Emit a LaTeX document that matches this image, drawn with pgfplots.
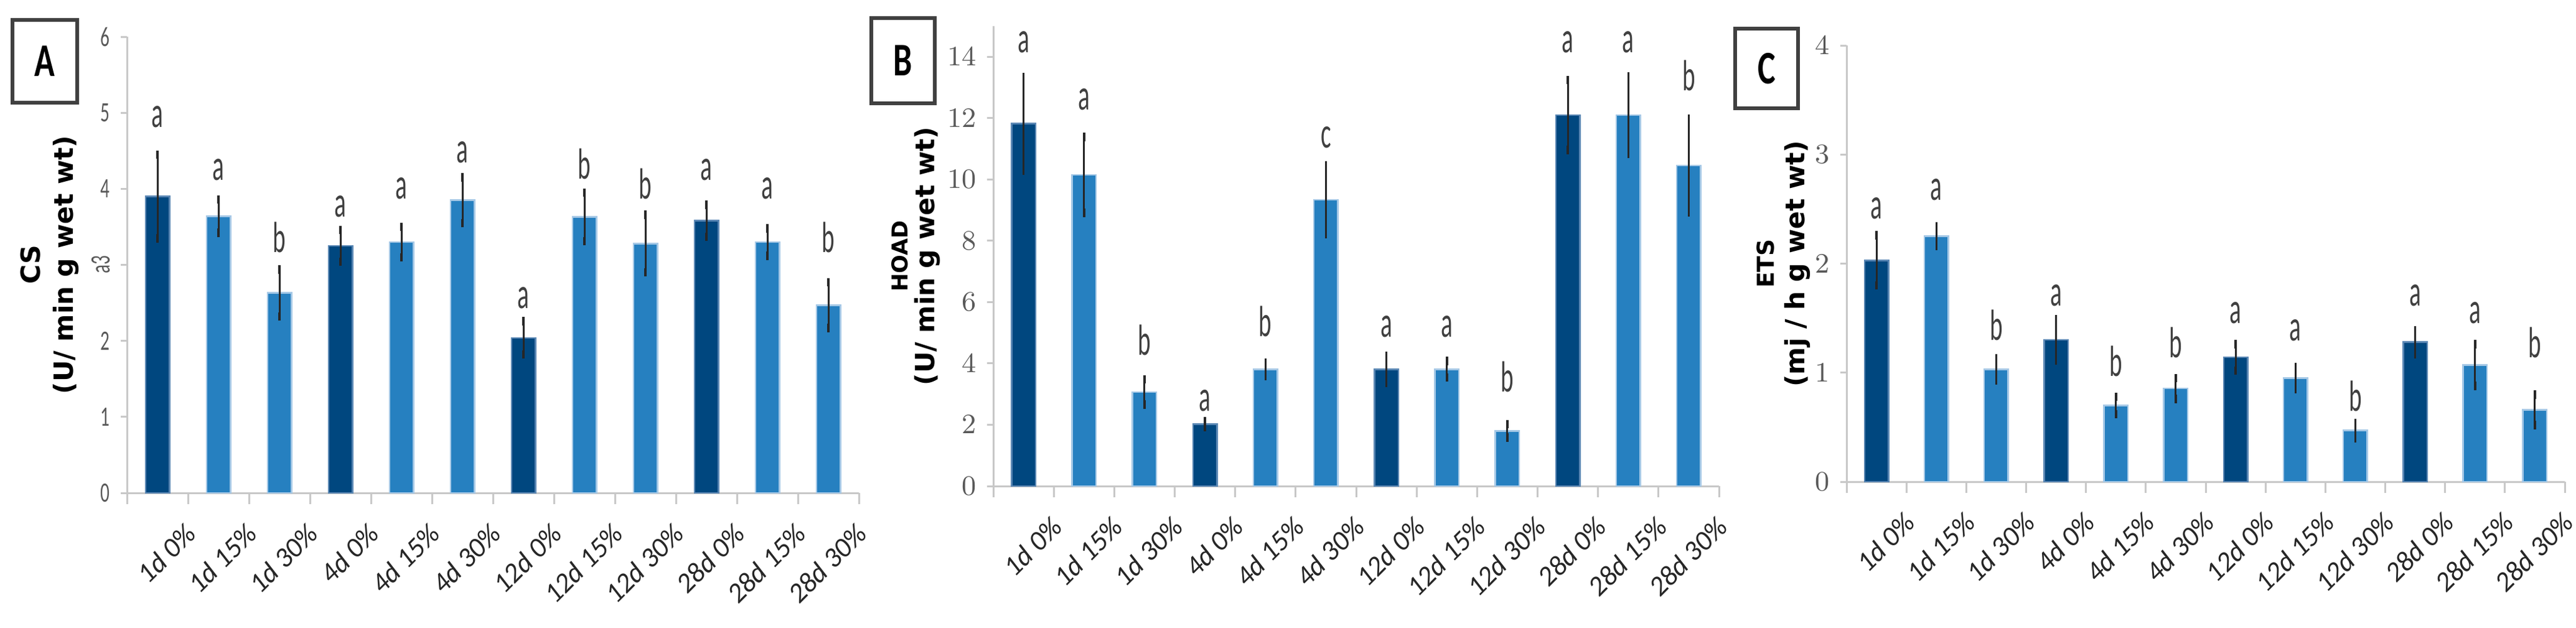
\documentclass[border=0pt]{standalone}
\usepackage{pgfplots}
\pgfplotsset{compat=1.18}
\usepackage{fontspec}
\setmainfont{Carlito}
\newfontfamily\tickf{Carlito}[FakeStretch=0.65]
\newfontfamily\letf{Carlito}[FakeStretch=0.56]
\newfontfamily\boxf{Carlito}[FakeStretch=0.72]
\newfontfamily\labf{DejaVu Sans}
\definecolor{darkb}{RGB}{0,71,127}
\definecolor{darkedge}{RGB}{90,135,180}
\definecolor{lightb}{RGB}{38,128,192}
\definecolor{lightedge}{RGB}{165,200,230}
\definecolor{axgray}{RGB}{200,200,200}
\definecolor{tickgray}{RGB}{89,89,89}
\definecolor{letgray}{RGB}{64,64,64}
\pgfplotsset{
  panel/.style={
    scale only axis,
    xmin=-0.5, xmax=11.5, ymin=0,
    axis x line*=bottom, axis y line*=left,
    axis line style={axgray, line width=0.6pt},
    xtick={0,...,11},
    xticklabels={1d 0\%, 1d 15\%, 1d 30\%, 4d 0\%, 4d 15\%, 4d 30\%, 12d 0\%, 12d 15\%, 12d 30\%, 28d 0\%, 28d 15\%, 28d 30\%},
    major x tick style={draw=none},
    minor xtick={-0.5,0.5,...,11.5},
    minor x tick style={axgray, line width=0.6pt},
    minor tick length=3.5pt,
    tick align=outside,
    major tick length=2pt,
    ytick style={axgray, line width=0.6pt},
    xticklabel style={rotate=45, anchor=north east, font=\itshape\fontsize{9}{9}\selectfont, text=black!85, inner sep=0pt, yshift=-11pt, xshift=1pt},
    yticklabel style={font=\tickf\fontsize{9}{9}\selectfont, text=tickgray},
    ylabel style={font=\labf\bfseries\fontsize{8.5}{10.6}\selectfont, align=center, anchor=center},
    clip=false,
  },
  darkbar/.style={ybar, bar width=7.7pt, bar shift=0pt, fill=darkb, draw=darkedge, line width=0.5pt,
    error bars/.cd, y dir=both, y explicit,
    error bar style={line width=0.6pt, black!85},
    error mark options={mark size=1.35pt, line width=0.7pt, black!85}},
  lightbar/.style={ybar, bar width=7.7pt, bar shift=0pt, fill=lightb, draw=lightedge, line width=0.5pt,
    error bars/.cd, y dir=both, y explicit,
    error bar style={line width=0.6pt, black!85},
    error mark options={mark size=1.35pt, line width=0.7pt, black!85}},
  letters/.style={draw=none, mark=none, nodes near coords, point meta=explicit symbolic,
    nodes near coords style={font=\letf\fontsize{14}{14}\selectfont, text=letgray, anchor=base, inner sep=0pt}},
}
\begin{document}
\begin{tikzpicture}
\useasboundingbox (0,0) rectangle (827.8pt,201.6pt);

% ---------------- Panel A ----------------
\begin{axis}[panel, at={(40.8pt,43.2pt)}, anchor=south west,
  width=235.2pt, height=146.6pt, ymax=6,
  ytick={0,...,6}, yticklabels={0,1,2,{\rotatebox{90}{a3}},4,5,6},
  ylabel={CS\\(U/ min g wet wt)},
  ylabel style={at={(axis description cs:-0.106,0.5)}}]
\addplot[darkbar] coordinates {(0,3.90) +- (0,0.55) (3,3.25) +- (0,0.21) (6,2.04) +- (0,0.22) (9,3.58) +- (0,0.21)};
\addplot[lightbar] coordinates {(1,3.64) +- (0,0.22) (2,2.63) +- (0,0.31) (4,3.30) +- (0,0.20) (5,3.85) +- (0,0.30)
  (7,3.63) +- (0,0.32) (8,3.28) +- (0,0.38) (10,3.30) +- (0,0.18) (11,2.47) +- (0,0.30)};
\addplot[letters] table[meta=l] {
x y l
0 4.81 a
1 4.11 a
2 3.16 b
3 3.63 a
4 3.87 a
5 4.34 a
6 2.43 a
7 4.13 b
8 3.87 b
9 4.11 a
10 3.87 a
11 3.16 b
};
\end{axis}

% ---------------- Panel B ----------------
\begin{axis}[panel, at={(319.2pt,45.4pt)}, anchor=south west,
  width=233.2pt, height=147.8pt, ymax=15,
  ytick={0,2,...,14},
  ylabel={{\fontsize{7}{8.6}\selectfont HOAD}\\(U/ min g wet wt)},
  ylabel style={font=\labf\bfseries\fontsize{8.5}{8.6}\selectfont, at={(axis description cs:-0.107,0.5)}}]
\addplot[darkbar] coordinates {(0,11.82) +- (0,1.53) (3,2.02) +- (0,0.10) (6,3.81) +- (0,0.44) (9,12.10) +- (0,1.14)};
\addplot[lightbar] coordinates {(1,10.15) +- (0,1.24) (2,3.07) +- (0,0.41) (4,3.81) +- (0,0.22) (5,9.34) +- (0,1.12)
  (7,3.81) +- (0,0.27) (8,1.80) +- (0,0.22) (10,12.10) +- (0,1.27) (11,10.45) +- (0,1.53)};
\addplot[letters] table[meta=l] {
x y l
0 14.14 a
1 12.28 a
2 4.28 b
3 2.45 a
4 4.89 b
5 11.03 c
6 4.87 a
7 4.87 a
8 3.07 b
9 14.14 a
10 14.14 a
11 12.89 b
};
\end{axis}

% ---------------- Panel C ----------------
\begin{axis}[panel, at={(593.4pt,46.8pt)}, anchor=south west,
  width=230.8pt, height=140.2pt, ymax=4,
  ytick={0,...,4},
  ylabel={{\fontsize{7.5}{9.7}\selectfont ETS}\\(mj / h g wet wt)},
  ylabel style={font=\labf\bfseries\fontsize{8.5}{9.7}\selectfont, at={(axis description cs:-0.088,0.5)}}]
\addplot[darkbar] coordinates {(0,2.03) +- (0,0.23) (3,1.30) +- (0,0.19) (6,1.14) +- (0,0.12) (9,1.28) +- (0,0.11)};
\addplot[lightbar] coordinates {(1,2.25) +- (0,0.09) (2,1.03) +- (0,0.10) (4,0.70) +- (0,0.08) (5,0.855) +- (0,0.095)
  (7,0.95) +- (0,0.10) (8,0.47) +- (0,0.07) (10,1.07) +- (0,0.19) (11,0.66) +- (0,0.14)};
\addplot[letters] table[meta=l] {
x y l
0 2.41 a
1 2.58 a
2 1.30 b
3 1.61 a
4 0.97 b
5 1.14 b
6 1.45 a
7 1.29 a
8 0.65 b
9 1.61 a
10 1.45 a
11 1.14 b
};
\end{axis}

% panel letters in boxes
\draw[line width=1.2pt, black!75] (4pt,168.6pt) rectangle (24.8pt,195.2pt);
\node[font=\boxf\bfseries\fontsize{15}{15}\selectfont] at (14.4pt,181.9pt) {A};
\draw[line width=1.2pt, black!75] (280pt,168.4pt) rectangle (300.4pt,195.8pt);
\node[font=\boxf\bfseries\fontsize{15}{15}\selectfont] at (290.2pt,182.1pt) {B};
\draw[line width=1.2pt, black!75] (557.6pt,166.8pt) rectangle (577.8pt,192.4pt);
\node[font=\boxf\bfseries\fontsize{15}{15}\selectfont] at (567.7pt,179.6pt) {C};
\end{tikzpicture}
\end{document}
